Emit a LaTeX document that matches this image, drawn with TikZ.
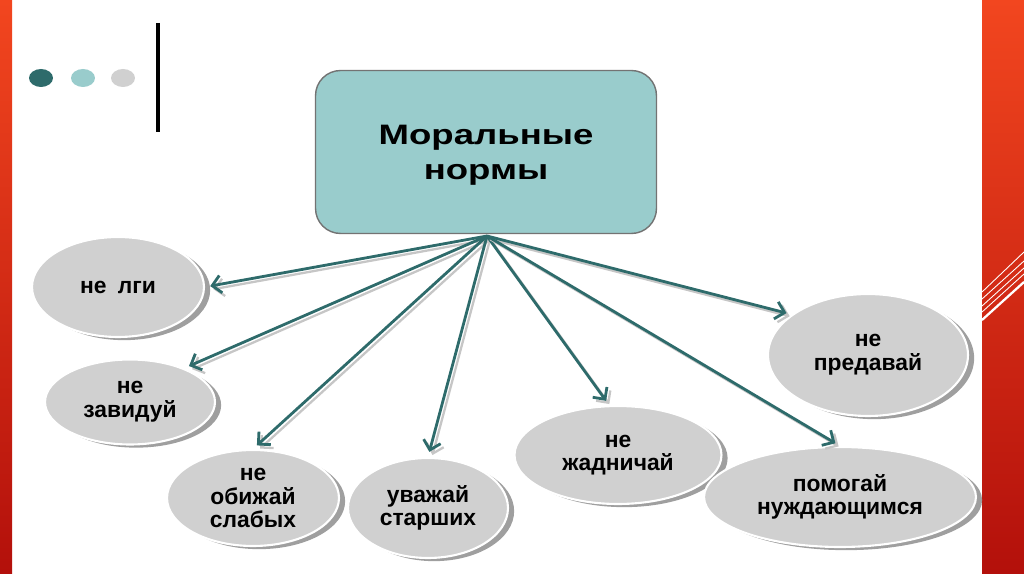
\documentclass[tikz,border=0pt]{standalone}
\usepackage{fontspec}
\setmainfont{Liberation Sans}
\newfontfamily\widefont[FakeStretch=1.3]{Liberation Sans}
\usetikzlibrary{arrows.meta,shapes.geometric,shadows}

\definecolor{deepteal}{HTML}{2E6B6B}
\definecolor{paleteal}{HTML}{99CCCC}
\definecolor{pebble}{HTML}{D0D0D0}
\definecolor{slidered}{HTML}{F2461F}
\definecolor{darkred}{HTML}{B3100B}

\begin{document}
\begin{tikzpicture}[x=0.02cm,y=-0.02cm]
        \useasboundingbox (0,0) rectangle (1024,574);
        % slide frame
        \shade[top color=slidered,bottom color=darkred] (0,0) rectangle (12,574);
        \shade[top color=slidered,bottom color=darkred] (982,0) rectangle (1024,574);
        \foreach \a/\b in {292/252,299/261,306/268,312/274}
            \draw[white,line width=0.5pt] (982,\a) -- (1024,\b);
        \draw[white,line width=1.3pt] (982,320) -- (1024,282);
        \fill[deepteal] (41,78) ellipse (0.24cm and 0.18cm);
        \fill[paleteal] (83,78) ellipse (0.24cm and 0.18cm);
        \fill[pebble]   (123,78) ellipse (0.24cm and 0.18cm);
        \draw[line width=2.3pt] (158,23) -- (158,132);

        \node[draw=gray!90!black,line width=0.8pt,fill=paleteal,rounded corners=0.5cm,
              minimum width=6.82cm,minimum height=3.26cm,align=center,text depth=0pt,
              font=\widefont\bfseries\fontsize{16}{20}\selectfont] (norms) at (486,152) {Моральные\\нормы};
        \coordinate (hub) at (487,236);

        \begin{scope}[every node/.style={ellipse,fill=pebble,draw=white,line width=1.2pt,
                      inner sep=0pt,align=center,font=\bfseries\fontsize{13}{13.5}\selectfont,
                      drop shadow={shadow xshift=3.5pt,shadow yshift=-1.8pt,fill=gray!75,opacity=1}}]
            \node[minimum width=3.44cm,minimum height=2.0cm]  (lie)    at (118,287) {не\enspace лги};
            \node[minimum width=3.4cm,minimum height=1.7cm]   (envy)   at (130,402) {не\\завидуй};
            \node[minimum width=3.44cm,minimum height=1.92cm] (weak)   at (253,498) {не\\обижай\\слабых};
            \node[minimum width=3.2cm,minimum height=2.0cm]   (elders) at (428,508) {уважай\\старших};
            \node[minimum width=4.14cm,minimum height=1.96cm] (greed)  at (618,455) {не\\жадничай};
            \node[minimum width=4.0cm,minimum height=2.44cm]  (betray) at (868,355) {не\\предавай};
            \node[minimum width=5.44cm,minimum height=2.0cm]  (help)   at (840,497) {помогай\\нуждающимся};
        \end{scope}

        \begin{scope}[every edge/.style={draw=deepteal,line width=1.6pt,shorten >=3pt,
                      -{Straight Barb[length=5pt,width=10pt]},
                      preaction={draw=gray!45,line width=1.3pt,transform canvas={shift={(1.8pt,-1.8pt)}}}}]
            \path (hub) edge (lie.east);
            \path (hub) edge (envy.32);
            \path (hub) edge (weak.north);
            \path (hub) edge (elders.north);
            \path (hub) edge (greed.100);
            \path (hub) edge (betray.152);
            \path (hub) edge (help.north);
        \end{scope}
\end{tikzpicture}
\end{document}
